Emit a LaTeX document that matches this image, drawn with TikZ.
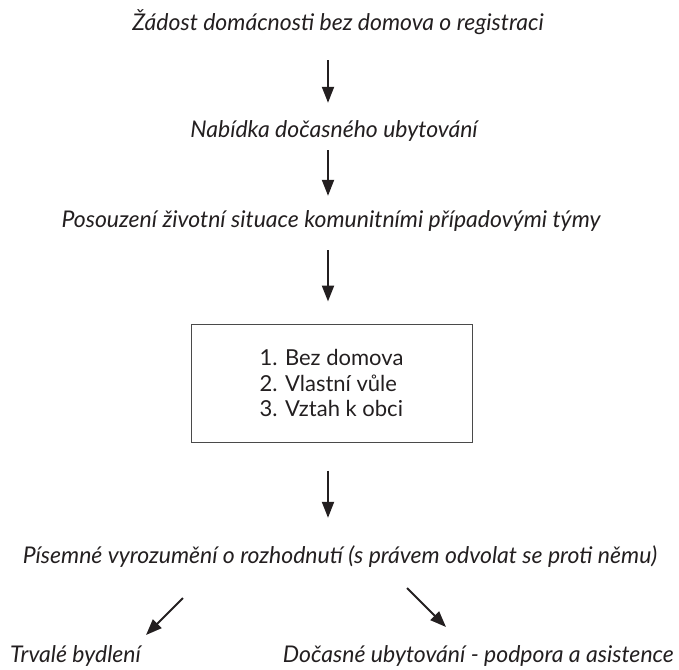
\documentclass[tikz,border=0pt]{standalone}
\usepackage{fontspec}
\setmainfont{Lato}
\usepackage{xcolor}
\usepackage{tikz}
\usetikzlibrary{arrows.meta,calc}
\definecolor{ink}{HTML}{231F20}
\definecolor{frame}{HTML}{4A4A4A}
\tikzset{
  stepText/.style={text=ink, font=\fontsize{23}{26}\selectfont\itshape, inner sep=0pt,
    text height=16pt, text depth=5pt, anchor=base},
  criteriaBox/.style={draw=frame, line width=1pt, text=ink, font=\fontsize{22}{25.5}\selectfont,
    align=left, minimum width=281pt, minimum height=118pt},
  flow/.style={draw=ink, line width=2.1pt, -{Triangle[length=16pt,width=12pt]}}
}

\begin{document}
\begin{tikzpicture}[x=1pt,y=-1pt]
  \useasboundingbox (0,0) rectangle (679,669);

  \node[stepText] (request) at (338,31) {Žádost domácnosti bez domova o registraci};
  \node[stepText] (offer) at (334,137) {Nabídka dočasného ubytování};
  \node[stepText] (assess) at (331,227) {Posouzení životní situace komunitními případovými týmy};
  \node[criteriaBox] (criteria) at (331.5,383) {1. Bez domova\\2. Vlastní vůle\\3. Vztah k obci};
  \node[stepText] (decision) at (340,563) {Písemné vyrozumění o rozhodnutí (s právem odvolat se proti němu)};
  \node[stepText, anchor=base west] (permanent) at (10,662) {Trvalé bydlení};
  \node[stepText, anchor=base east] (temporary) at (674,662) {Dočasné ubytování - podpora a asistence};

  \coordinate (spine) at (328,0);
  \coordinate (leftTop) at (183,598);
  \coordinate (leftTip) at (146,635);
  \coordinate (rightTop) at (407,588);
  \coordinate (rightTip) at (446,627);

  \draw[flow, shorten <=24pt, shorten >=18pt] (request.south -| spine) -- (offer.north -| spine);
  \draw[flow, shorten <=8pt, shorten >=15pt] (offer.south -| spine) -- (assess.north -| spine);
  \draw[flow, shorten <=18pt, shorten >=22pt] (assess.south -| spine) -- (criteria.north -| spine);
  \draw[flow, shorten <=28pt, shorten >=29pt] (criteria.south -| spine) -- (decision.north -| spine);
  \draw[flow] (leftTop) -- (leftTip);
  \draw[flow] (rightTop) -- (rightTip);
\end{tikzpicture}
\end{document}
